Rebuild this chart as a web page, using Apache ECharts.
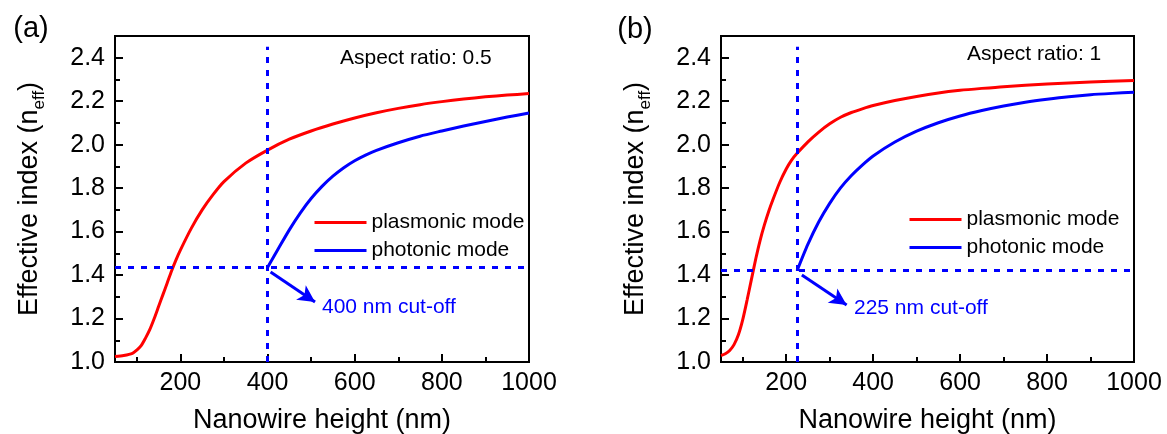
<!DOCTYPE html>
<html>
<head>
<meta charset="utf-8">
<script src="https://cdn.jsdelivr.net/npm/echarts@6/dist/echarts.min.js"></script>
<style>
  html, body { margin: 0; padding: 0; background: #fff; }
  #chart { width: 1167px; height: 434px; }
</style>
</head>
<body>
<div id="chart"></div>
<script>
// Nanowire height (nm) vs. effective index, two aspect ratios
const plasmonicHeightA = [50, 70, 90, 100, 110, 120, 130, 140, 150, 160, 170, 180, 190, 200, 225, 250, 275, 300, 350, 400, 450, 500, 550, 600, 650, 700, 750, 800, 850, 900, 950, 1000];
const plasmonicIndexA  = [1.025, 1.03, 1.04, 1.055, 1.075, 1.11, 1.15, 1.2, 1.255, 1.31, 1.365, 1.42, 1.47, 1.515, 1.615, 1.70, 1.77, 1.83, 1.915, 1.975, 2.025, 2.063, 2.095, 2.123, 2.147, 2.167, 2.184, 2.198, 2.21, 2.22, 2.228, 2.235];
const photonicHeightA  = [400, 425, 450, 475, 500, 525, 550, 575, 600, 625, 650, 700, 750, 800, 850, 900, 950, 1000];
const photonicIndexA   = [1.435, 1.522, 1.608, 1.685, 1.752, 1.808, 1.855, 1.894, 1.926, 1.952, 1.974, 2.009, 2.039, 2.063, 2.086, 2.107, 2.127, 2.146];

const plasmonicHeightB = [50, 60, 70, 80, 90, 100, 110, 120, 130, 140, 150, 160, 170, 185, 200, 212, 225, 250, 275, 300, 325, 350, 375, 400, 450, 500, 550, 600, 650, 700, 800, 900, 1000];
const plasmonicIndexB  = [1.03, 1.038, 1.053, 1.08, 1.125, 1.195, 1.285, 1.38, 1.475, 1.56, 1.632, 1.695, 1.75, 1.826, 1.888, 1.928, 1.96, 2.013, 2.058, 2.096, 2.126, 2.148, 2.165, 2.18, 2.203, 2.222, 2.238, 2.25, 2.259, 2.267, 2.279, 2.288, 2.295];
const photonicHeightB  = [225, 250, 275, 300, 325, 350, 375, 400, 450, 500, 550, 600, 650, 700, 750, 800, 850, 900, 950, 1000];
const photonicIndexB   = [1.42, 1.542, 1.645, 1.73, 1.801, 1.858, 1.906, 1.948, 2.012, 2.062, 2.101, 2.132, 2.157, 2.178, 2.195, 2.209, 2.221, 2.23, 2.236, 2.241];

// cut-off guides: [height, index] and arrow from/to points
const cutoffA = [400, 1.435];
const cutoffB = [225, 1.42];
const guideTop = 2.45;
const arrowA = [[407, 1.414], [509, 1.276]];
const arrowB = [[236, 1.40], [339, 1.262]];

const xMajor = [200, 400, 600, 800, 1000];
const xMinor = [100, 300, 500, 700, 900];
const yMajor = [1.0, 1.2, 1.4, 1.6, 1.8, 2.0, 2.2, 2.4];
const yMinor = [1.1, 1.3, 1.5, 1.7, 1.9, 2.1, 2.3];

const seriesNames = ['plasmonic mode', 'photonic mode'];
const panelLabels = ['(a)', '(b)'];
const ratioLabels = ['Aspect ratio: 0.5', 'Aspect ratio: 1'];
const cutoffLabels = ['400 nm cut-off', '225 nm cut-off'];

const FONT = "'Liberation Sans', Arial, sans-serif";
const RED = '#ff0000';
const BLUE = '#0000ff';

const pairs = (xs, ys) => xs.map((x, i) => [x, ys[i]]);

const grids = [
  { left: 115, top: 36, width: 414, height: 326 },
  { left: 721, top: 36, width: 413, height: 326 }
].map(g => Object.assign({ show: true, borderColor: '#000', borderWidth: 2, outerBoundsMode: 'none', containLabel: false }, g));

const xAxes = [];
const yAxes = [];
[0, 1].forEach(i => {
  xAxes.push({
    gridIndex: i, type: 'value', min: 50, max: 1000, position: 'bottom',
    axisLine: { show: true, onZero: false, lineStyle: { color: '#000', width: 2 } },
    axisTick: { show: true, inside: true, length: 8, customValues: xMajor, lineStyle: { color: '#000', width: 2 } },
    axisLabel: { customValues: xMajor, formatter: v => String(v), color: '#000', fontSize: 25, fontFamily: FONT, margin: 9 },
    splitLine: { show: false },
    name: 'Nanowire height (nm)', nameLocation: 'middle', nameGap: 45,
    nameMoveOverlap: false,
    nameTextStyle: { color: '#000', fontSize: 27, fontFamily: FONT }
  });
  xAxes.push({
    gridIndex: i, type: 'value', min: 50, max: 1000, position: 'bottom',
    axisLine: { show: false },
    axisTick: { show: true, inside: true, length: 5, customValues: xMinor, lineStyle: { color: '#000', width: 2 } },
    axisLabel: { show: false }, splitLine: { show: false }
  });
  yAxes.push({
    gridIndex: i, type: 'value', min: 1.0, max: 2.5, position: 'left',
    axisLine: { show: true, onZero: false, lineStyle: { color: '#000', width: 2 } },
    axisTick: { show: true, inside: true, length: 8, customValues: yMajor, lineStyle: { color: '#000', width: 2 } },
    axisLabel: { customValues: yMajor, formatter: v => v.toFixed(1), color: '#000', fontSize: 25, fontFamily: FONT, margin: 10 },
    splitLine: { show: false },
    name: '{a|Effective index (n}{s|eff}{a|)}', nameLocation: 'middle', nameRotate: 90, nameGap: 67,
    nameMoveOverlap: false,
    nameTextStyle: {
      color: '#000',
      rich: {
        a: { fontSize: 27, fontFamily: FONT, color: '#000', lineHeight: 36 },
        s: { fontSize: 17, fontFamily: FONT, color: '#000', lineHeight: 17, verticalAlign: 'bottom' }
      }
    }
  });
  yAxes.push({
    gridIndex: i, type: 'value', min: 1.0, max: 2.5, position: 'left',
    axisLine: { show: false },
    axisTick: { show: true, inside: true, length: 5, customValues: yMinor, lineStyle: { color: '#000', width: 2 } },
    axisLabel: { show: false }, splitLine: { show: false }
  });
});

function curve(name, color, data, panel) {
  return {
    name, type: 'line', xAxisIndex: panel * 2, yAxisIndex: panel * 2,
    data, showSymbol: false, symbol: 'none', smooth: 0.25,
    lineStyle: { color, width: 3 }, itemStyle: { color },
    animation: false, z: 3
  };
}

function guides(panel, cut, arrow) {
  return {
    name: 'guides', type: 'line', xAxisIndex: panel * 2, yAxisIndex: panel * 2,
    data: [], animation: false, z: 4,
    markLine: {
      silent: true, animation: false, label: { show: false },
      data: [
        [ { coord: [cut[0], 1.0], symbol: 'none', lineStyle: { color: BLUE, width: 3, type: [6, 7] } },
          { coord: [cut[0], guideTop], symbol: 'none' } ],
        [ { coord: [50, cut[1]], symbol: 'none', lineStyle: { color: BLUE, width: 3, type: [6, 7] } },
          { coord: [1000, cut[1]], symbol: 'none' } ],
        [ { coord: arrow[0], symbol: 'none', lineStyle: { color: BLUE, width: 3, type: 'solid' } },
          { coord: arrow[1], symbol: 'arrow', symbolSize: [13, 17] } ]
      ]
    }
  };
}

const series = [
  curve(seriesNames[0], RED, pairs(plasmonicHeightA, plasmonicIndexA), 0),
  curve(seriesNames[1], BLUE, pairs(photonicHeightA, photonicIndexA), 0),
  curve(seriesNames[0], RED, pairs(plasmonicHeightB, plasmonicIndexB), 1),
  curve(seriesNames[1], BLUE, pairs(photonicHeightB, photonicIndexB), 1),
  guides(0, cutoffA, arrowA),
  guides(1, cutoffB, arrowB)
];

const legendBase = {
  data: seriesNames, orient: 'vertical', itemWidth: 52, itemHeight: 14, itemGap: 7,
  selectedMode: false, padding: 0,
  textStyle: { color: '#000', fontSize: 21, fontFamily: FONT, lineHeight: 21 },
  itemStyle: { opacity: 0 },
  lineStyle: { width: 3 }
};

function text(x, y, str, size, fill, align) {
  return { type: 'text', x, y, style: { text: str, fill: fill || '#000', font: size + 'px ' + FONT, align: align || 'left', verticalAlign: 'middle' } };
}

const option = {
  backgroundColor: '#fff',
  animation: false,
  grid: grids,
  xAxis: xAxes,
  yAxis: yAxes,
  legend: [
    Object.assign({ left: 313, top: 212 }, legendBase),
    Object.assign({ left: 908, top: 209 }, legendBase)
  ],
  series,
  graphic: [
    text(31, 29, panelLabels[0], 29, '#000', 'center'),
    text(635, 30, panelLabels[1], 29, '#000', 'center'),
    text(340, 58, ratioLabels[0], 21),
    text(967, 54, ratioLabels[1], 21),
    text(322, 307, cutoffLabels[0], 21, BLUE),
    text(854, 308, cutoffLabels[1], 21, BLUE)
  ]
};

const chart = echarts.init(document.getElementById('chart'), null, { renderer: 'canvas' });
chart.setOption(option);
</script>
</body>
</html>
